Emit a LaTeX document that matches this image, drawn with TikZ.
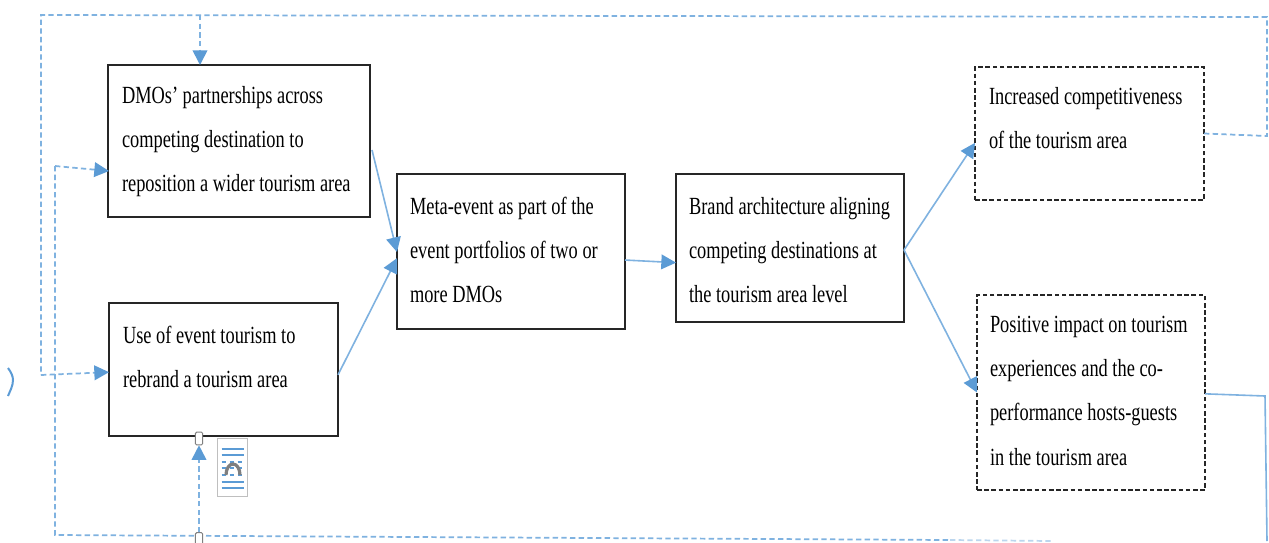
\documentclass[tikz,border=0pt]{standalone}
\usepackage{fontspec}
\setmainfont[FakeStretch=0.745]{Liberation Serif}
\usetikzlibrary{arrows.meta,calc}
\definecolor{wblue}{HTML}{5B9BD5}
\definecolor{lblue}{HTML}{7FB2E0}
\definecolor{fblue}{HTML}{BBD6EE}
\definecolor{hgray}{HTML}{7F7F7F}
\newcommand{\boxtext}[4]{\parbox[c][\dimexpr #2pt*3/4\relax][t]{\dimexpr #1pt*3/4\relax}{\vspace*{\dimexpr #3pt*3/4\relax}\fontsize{18.5pt}{33.2pt}\selectfont #4}}
\tikzset{
  x=0.75pt,y=-0.75pt,
  plainbox/.style={draw=black!85,line width=1.1pt,inner sep=0pt,fill=white,outer sep=0pt,minimum width=10pt},
  dashbox/.style={plainbox,dash pattern=on 3.4pt off 2pt,line width=1pt},
  conn/.style={draw=lblue,line width=1.2pt,-{Triangle[length=11pt,width=11pt,color=wblue]}},
  dconn/.style={draw=lblue,line width=1.3pt,dash pattern=on 4pt off 2.5pt},
  dconna/.style={dconn,-{Triangle[length=11pt,width=11pt,color=wblue]}},
  sconn/.style={draw=lblue,line width=1.2pt},
  handle/.style={draw=hgray,fill=white,line width=0.7pt,rounded corners=1pt,minimum width=5.5pt,minimum height=9.5pt,inner sep=0pt},
  icon/.style={draw=black!25,fill=white,line width=0.8pt,minimum width=23pt,minimum height=44pt,inner sep=0pt}
}
\begin{document}
\begin{tikzpicture}
\useasboundingbox[fill=white] (0,0) rectangle (1269,542);

% boxes
\node[plainbox] (a) at (239,141) {\hspace{10.5pt}\boxtext{248}{152}{21}{DMOs’ partnerships across\\competing destination to\\reposition a wider tourism area}};
\node[plainbox] (b) at (223.5,369.5) {\hspace{10.5pt}\boxtext{215}{133}{23}{Use of event tourism to\\rebrand a tourism area}};
\node[plainbox] (c) at (511,251.5) {\hspace{9.75pt}\boxtext{215}{155}{23}{Meta-event as part of the\\event portfolios of two or\\more DMOs}};
\node[plainbox] (d) at (790,248) {\hspace{9.75pt}\boxtext{215}{148}{23}{Brand architecture aligning\\competing destinations at\\the tourism area level}};
\node[dashbox] (e) at (1089.5,133.5) {\hspace{10.5pt}\boxtext{215}{133}{20}{Increased competitiveness\\of the tourism area}};
\node[dashbox] (f) at (1091,392.5) {\hspace{9.75pt}\boxtext{215}{195}{21}{Positive impact on tourism\\experiences and the co-\\performance hosts-guests\\in the tourism area}};

% solid arrows
\draw[conn] ([xshift=1.5pt,yshift=-6.75pt]a.east) -- ([yshift=-0.4pt]c.west);
\draw[conn] ([yshift=-4pt]b.east) -- ([yshift=-5pt]c.west);
\draw[conn] ([yshift=-6.4pt]c.east) -- ([yshift=-11pt]d.west);
\coordinate (fork) at ($(d.east)+(0,2)$);
\draw[conn] (fork) -- ([yshift=-7pt]e.west);
\draw[conn] (fork) -- (f.west);

% dashed feedback
\coordinate (r1) at (1267,136);
\coordinate (r2) at (1267,17);
\coordinate (t1) at (41,15);
\coordinate (t2) at (41,375);
\coordinate (tb) at (200,15);
\draw[dconn] (e.east) -- (r1) -- (r2) -- (t1) -- (t2);
\draw[dconna] (t2) -- ([yshift=-2pt]b.west);
\draw[dconna] (tb) -- (tb |- a.north);

\coordinate (s2) at (1265,396);
\coordinate (s3) at (1267,541);
\draw[sconn] ([yshift=-1pt]f.east) -- (s2) -- (s3);

\coordinate (l1) at (55,166);
\coordinate (l2) at (55,535);
\coordinate (l3) at (950,540);
\coordinate (l4) at (1052,541);
\coordinate (la) at (109,171);
\draw[dconna] (l1) -- (la);
\draw[dconn] (l1) -- (l2) -- (l3);
\draw[dconn,draw=fblue] (l3) -- (l4);
\node[handle] (h2) at (199,539) {};
\node[handle] (h1) at (199,438.5) {};
\draw[dconna] (h2) -- (h1);

% layout icon
\node[icon] (ic) at (232.5,467.5) {};
\foreach \yy/\ss in {449/solid,455/solid,462/dashed,468/dashed,475/dashed,482/solid,488/solid}
  \draw[wblue,line width=1pt,\ss] ($(ic.center)+(-11,\yy-467.5)$) -- ++(22,0);
\draw[hgray,line width=2.4pt] (226,475) arc[start angle=180,end angle=0,x radius=7,y radius=-11];

% stray mark
\draw[wblue,line width=1.5pt] (8,368) .. controls (11,372) and (13,376) .. (13,380) .. controls (13,386) and (10,391) .. (8,396);
\end{tikzpicture}
\end{document}
